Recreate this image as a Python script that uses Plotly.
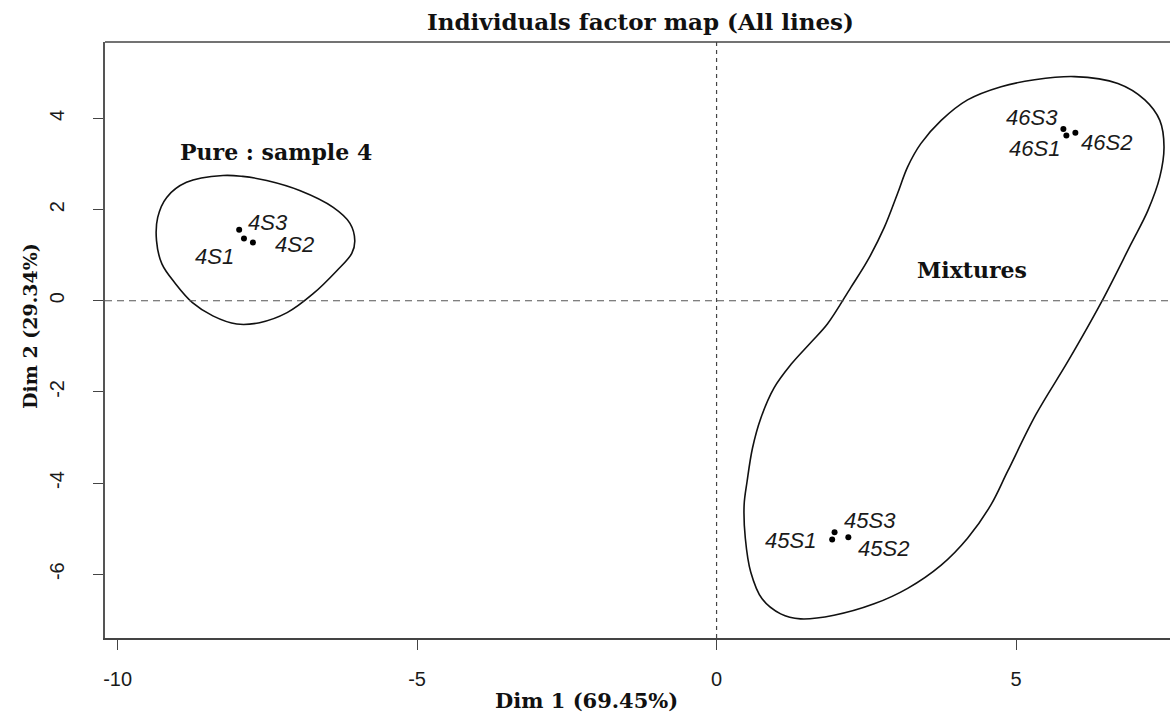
import plotly.graph_objects as go

# ---- data ----
names = ["4S1", "4S2", "4S3", "45S1", "45S2", "45S3", "46S1", "46S2", "46S3"]
dim1 = [-7.89, -7.74, -7.97, 1.93, 2.20, 1.97, 5.84, 5.99, 5.79]
dim2 = [1.37, 1.28, 1.56, -5.24, -5.19, -5.08, 3.63, 3.69, 3.77]

pure_x = [-8.24, -8.85, -9.18, -9.33, -9.35, -9.26, -9.03, -8.75, -8.41, -8.01, -7.63,
          -7.17, -6.74, -6.34, -6.09, -6.04, -6.12, -6.40, -6.96, -7.51, -7.91]
pure_y = [2.75, 2.60, 2.27, 1.83, 1.32, 0.81, 0.37, -0.04, -0.33, -0.51, -0.48,
          -0.26, 0.15, 0.66, 1.04, 1.32, 1.70, 2.05, 2.42, 2.64, 2.73]

mix_x = [5.975, 5.31, 4.75, 4.19, 3.75, 3.41, 3.19, 3.02, 2.80, 2.52, 2.24, 1.85,
         1.57, 1.24, 0.96, 0.74, 0.60, 0.51, 0.46, 0.48, 0.57, 0.76, 1.07, 1.40, 1.96,
         2.63, 3.19, 3.75, 4.19, 4.58, 4.86, 5.33, 5.87, 6.42, 6.92, 7.20, 7.40,
         7.47, 7.40, 7.15, 6.70]
mix_y = [4.92, 4.85, 4.70, 4.41, 3.96, 3.45, 2.94, 2.35, 1.61, 0.88, 0.29, -0.51,
         -0.92, -1.40, -1.91, -2.57, -3.23, -3.96, -4.48, -5.21, -5.95, -6.54, -6.87, -6.98,
         -6.90, -6.65, -6.31, -5.80, -5.21, -4.48, -3.74, -2.50, -1.32, -0.04, 1.25,
         1.98, 2.72, 3.38, 3.96, 4.41, 4.77]

group_names = ["Pure : sample 4", "Mixtures"]
group_label_x = [-7.35, 4.26]
group_label_y = [3.27, 0.68]

x_ticks = [-10, -5, 0, 5]
y_ticks = [-6, -4, -2, 0, 2, 4]

title_text = "Individuals factor map (All lines)"
x_title = "Dim 1 (69.45%)"
y_title = "Dim 2 (29.34%)"

# ---- label offsets (pixels, style only) ----
label_dx = [-29, 42, 29, -42, 35, 35, -32, 31, -31]
label_dy = [-18, -2, 7, -1, -11, 12, -13, -10, 12]

W, H = 1170, 715
L, T, B, R = 105, 42, 77, 0

fig = go.Figure()

for cx, cy in [(pure_x, pure_y), (mix_x, mix_y)]:
    fig.add_trace(go.Scatter(
        x=cx + cx[:1], y=cy + cy[:1], mode="lines",
        line=dict(color="#111111", width=1.6, shape="spline", smoothing=1.0),
        hoverinfo="skip"))

fig.add_trace(go.Scatter(
    x=dim1, y=dim2, mode="markers",
    marker=dict(color="black", size=6), hovertext=names))

serif = "DejaVu Serif"
sans = "Liberation Sans"

annotations = []
for n, x, y, dx, dy in zip(names, dim1, dim2, label_dx, label_dy):
    annotations.append(dict(
        x=x, y=y, xref="x", yref="y", text=n, showarrow=False,
        xshift=dx, yshift=dy, xanchor="center", yanchor="middle",
        font=dict(family=sans, size=22, color="#1a1a1a", style="italic")))

for n, x, y in zip(group_names, group_label_x, group_label_y):
    annotations.append(dict(
        x=x, y=y, xref="x", yref="y", text="<b>" + n + "</b>", showarrow=False,
        xanchor="center", yanchor="middle",
        font=dict(family=serif, size=22, color="#111111")))

pw = W - L - R
ph = H - T - B
annotations.append(dict(
    x=(640 - L) / pw, y=(H - B - 22) / ph, xref="paper", yref="paper",
    text="<b>" + title_text + "</b>", showarrow=False, xanchor="center", yanchor="middle",
    font=dict(family=serif, size=23, color="#111111")))
annotations.append(dict(
    x=(586 - L) / pw, y=(H - B - 700) / ph, xref="paper", yref="paper",
    text="<b>" + x_title + "</b>", showarrow=False, xanchor="center", yanchor="middle",
    font=dict(family=serif, size=21, color="#111111")))
annotations.append(dict(
    x=(30 - L) / pw, y=(H - B - 326) / ph, xref="paper", yref="paper",
    text="<b>" + y_title + "</b>", showarrow=False, xanchor="center", yanchor="middle",
    textangle=-90, font=dict(family=serif, size=19, color="#111111")))

shapes = [
    dict(type="line", xref="paper", yref="paper", x0=0, x1=1, y0=1, y1=1,
         line=dict(color="#444444", width=1.6)),
    dict(type="line", xref="x", yref="paper", x0=0, x1=0, y0=0, y1=1,
         line=dict(color="#444444", width=1.2, dash="4px,4px")),
    dict(type="line", xref="paper", yref="y", x0=0, x1=1, y0=0, y1=0,
         line=dict(color="#555555", width=1.1, dash="7px,5px")),
]

fig.update_layout(
    width=W, height=H,
    margin=dict(l=L, r=R, t=T, b=B, pad=0),
    paper_bgcolor="white", plot_bgcolor="white",
    showlegend=False,
    annotations=annotations, shapes=shapes,
    xaxis=dict(range=[-10.21, 7.57], tickvals=x_ticks, ticktext=[str(v) for v in x_ticks],
               showgrid=False, zeroline=False, showline=True, linecolor="#444444", linewidth=1.6,
               ticks="outside", ticklen=10, tickwidth=1.2, tickcolor="#444444",
               ticklabelstandoff=12,
               tickfont=dict(family=sans, size=20, color="#1a1a1a")),
    yaxis=dict(range=[-7.40, 5.68], tickvals=y_ticks, ticktext=[str(v) for v in y_ticks],
               showgrid=False, zeroline=False, showline=True, linecolor="#555555", linewidth=2,
               ticks="outside", ticklen=10, tickwidth=1.2, tickcolor="#444444",
               tickangle=-90, ticklabelstandoff=21,
               tickfont=dict(family=sans, size=20, color="#1a1a1a")),
)

fig.write_html("out.html")
